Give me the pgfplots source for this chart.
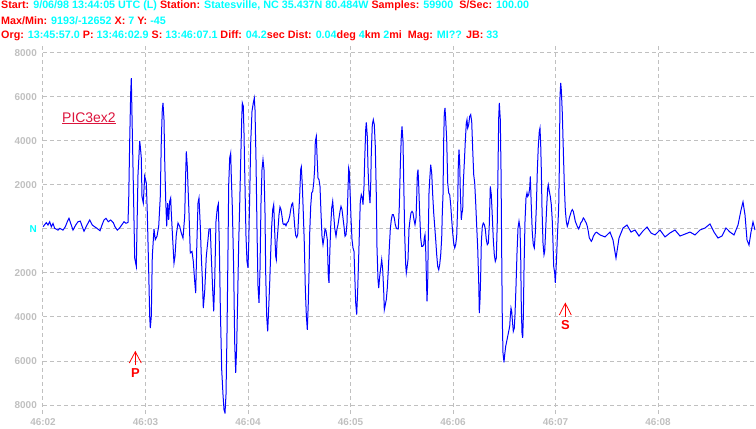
\documentclass[border=0pt]{standalone}
\usepackage{pgfplots}
\pgfplotsset{compat=1.18}
\usepackage{fontspec}
\setmainfont{Liberation Sans}
\definecolor{hdrred}{RGB}{255,0,0}
\definecolor{hdrcyan}{RGB}{0,255,255}
\definecolor{gridgray}{RGB}{192,192,192}
\definecolor{tracecol}{RGB}{0,0,255}
\definecolor{piccol}{RGB}{220,20,60}
\newcommand{\R}[1]{\textcolor{hdrred}{#1}}
\newcommand{\C}[1]{\textcolor{hdrcyan}{#1}}
\begin{document}
\begin{tikzpicture}
\begin{axis}[
 at={(0,0)}, anchor=south west,
 scale only axis, width=713bp, height=370.7bp,
 xmin=0, xmax=713, ymin=-8400, ymax=8450,
 scaled ticks=false,
 axis line style={draw=none}, tick style={draw=none}, major tick length=0pt,
 xtick={0,102.5,205,307.5,410,512.5,615},
 xticklabels={46:02,46:03,46:04,46:05,46:06,46:07,46:08},
 ytick={-8000,-6000,-4000,-2000,0,2000,4000,6000,8000},
 yticklabels={8000,6000,4000,2000,\textcolor{hdrcyan}{N},2000,4000,6000,8000},
 grid=major,
 major grid style={gridgray, line width=1bp, dash pattern=on 4bp off 3bp},
 ticklabel style={font=\fontsize{10}{12}\selectfont\bfseries, text=gridgray, inner sep=0pt},
 xticklabel style={anchor=north, yshift=-5bp},
 yticklabel style={anchor=east, xshift=-6bp},
]
\addplot[tracecol, line width=1bp] coordinates {
(0,100) (3.3,290) (5,180) (6.7,330) (8.3,100) (10,250) (11.7,30) (15,-50) (16.7,30) (20,-50)
(22.3,100) (24.3,330) (26,485) (27.7,260) (30,-50) (32.7,180) (35,330) (37.3,360) (39.3,100) (41,-100)
(44,180) (46.7,410) (49.3,180) (51.7,100) (54,30) (57,-80) (59,180) (61,410) (63,485) (65.3,330)
(67.7,410) (70.3,290) (72,100) (74.3,-50) (76.3,30) (78.7,180) (81,330) (83,260) (85,300)
(85.7,1330) (86.7,4000) (87.7,6200) (88.3,6860) (89.3,4440) (90.3,2090) (91.7,-1320) (93.3,-1700)
(95,2470) (96.7,4000) (97.3,3760) (98.3,3230) (99,1480) (100.3,1180) (101.7,2400) (103.3,2090)
(104.3,730) (105.7,-1920) (106.7,-3970) (107.3,-4500) (108.3,-3970) (109.3,-1240) (111,0)
(112.3,-480) (114,-330) (115.7,120) (117.3,1480) (118.3,4000) (119.3,5420) (120,5730) (121,4970)
(121.7,3150) (122.7,1330) (123.7,120) (124.7,1180) (125.7,420) (126.7,1260) (127.7,1410) (128.3,730)
(129.7,-480) (131,-1550) (132,-1240) (133.3,-260) (135,270) (136.7,120) (138.3,-180) (140,-410)
(141.7,580) (142.7,2540) (143.3,3530) (144.3,2850) (145,1940) (146,730) (147.3,-1090) (149,-1020)
(150.3,-1470) (151.7,-2380) (152.7,-2910) (153.7,-940) (155,1180) (156,1410) (157.3,120)
(158.3,-1240) (159.3,-2210) (160.3,-3590) (161.7,-2830) (163.3,-1240) (165,-480) (166,0) (167.3,0)
(168.3,-1240) (169.7,-2760) (170.7,-3740) (171.7,-2380) (173,350) (174.3,950)
(175.3,1140) (176.3,-640) (177.3,-3520) (178.7,-6390) (180,-7530) (181,-8210) (182,-8360) (183,-7530)
(184,-4730) (185,-940) (185.7,2010) (186.7,3230) (187.7,3450) (188.3,2390) (189.3,1030) (190.7,-1850)
(191.7,-5180) (192.7,-6540) (193.7,-5330) (194.7,-3060) (195.7,-640) (196.7,1110) (197.7,3080)
(198.7,4970) (199.3,5730) (200.3,5580) (201,4360) (202,1940) (203,-330) (204,-1470) (205,-1770)
(205.7,-710) (206.7,1480) (207.7,3910) (209,5350) (210.3,5730) (211.3,5950) (212,5420) (213,3150)
(214,0) (215,-2600) (216,-3360) (217,-1850) (218,1180) (219,2700) (220,3150) (221,2700) (222,730)
(222.7,-2000) (223.7,-3970) (224.7,-4650) (225.7,-3590) (226.7,-2450) (227.7,-1090) (228.7,120)
(229.7,880) (230.7,1110) (231.7,-110) (232.7,-1240) (233.3,-1390) (234,-560) (235,0) (236,650)
(237,1000) (238,880) (239,580) (240,240) (241,200) (242,240) (243,150) (244,270) (245.3,350)
(246.7,580) (247.7,880) (248.7,1110) (249.7,1180) (250.7,730) (251.7,120) (252.7,-290) (253.7,-380)
(254.7,-260) (255.7,650) (256.7,1560) (257.7,2700) (258.3,2820) (259.3,2010) (260.3,730) (261.3,-640)
(262.3,-2680) (263.3,-3890) (264.3,-4580) (265.3,-3360)
(266,-2000) (266.7,-180) (267.7,1030) (268.7,1640) (269.7,1710) (270.7,2090) (271.7,2770) (272.3,3980)
(273.3,4210) (274,3380) (275,2320) (276,2240) (277,1940) (278,730) (279,-330) (280,-710) (281,-410)
(282,0) (283,-80) (284.3,-480) (285.3,-2150) (286,-2450) (286.7,-1240) (287.7,120) (288.7,950)
(289.7,1260) (290.7,650) (291.7,45) (293,-330) (294,0) (295,200) (296,500) (297,800) (298,1030)
(299,880) (300,500) (301,120) (302,-330) (303,-260) (304,270) (305,1790) (305.7,2770) (306.3,2620)
(307,1790) (308,500) (309,-480) (310,-860) (311,-1020) (311.7,-2000) (312.7,-3360) (313.7,-3890)
(314.7,-2760) (315.7,-1240) (316.7,350) (317.3,1260) (318.3,1560) (319.3,1410) (320,1110) (321,1940)
(321.7,3150) (322.7,4510) (323.3,4850) (324.3,4210) (325,2770) (326,1710) (327,1180) (327.7,2010)
(328.3,3450) (329.3,4740) (330.3,4970) (331.3,4740) (332.3,3760) (333.3,1560) (334,-860) (335,-2300)
(335.7,-2680) (336.7,-2150) (337.7,-1770) (338.7,-1390) (339.7,-1850) (340.7,-2830) (341.3,-3670)
(342.3,-3440) (343.3,-3210) (344.3,-2680) (345.3,-1850) (346.3,-860) (347.3,0) (348.3,420) (349.3,650)
(350.3,650) (351.3,500) (352.3,200) (353.3,45) (354.3,0) (355.3,0) (356.3,1030) (357.3,2850)
(358.3,4210) (359,4660) (360,3980)
(361.7,-260) (362.7,-1620) (363.3,-2000) (364,-1770) (365,-1390) (366,0) (367,420) (368,730) (369,800)
(370,730) (371,420) (372,200) (373,500) (373.7,1410) (374.3,2470) (375,2700) (375.7,2010) (376.7,650)
(377.7,-410) (378.7,-790) (379.7,-790) (380.7,-710) (381.3,-410) (382,-260) (382.7,-940) (383.3,-2000)
(384,-3290) (384.7,-2450) (385.3,-330) (386,1640) (386.7,2240) (387.7,2920) (388.7,2540) (389.7,1560)
(390.7,730) (391.7,120) (392.7,-480) (393.7,-1170) (394.7,-1700) (395.7,-1850) (396.7,-1620)
(397.7,-1170) (398.7,-410) (399.3,730) (400,1560) (400.7,4060) (401.3,5270) (402,5500) (402.7,4970)
(403.7,4060) (404.7,2090) (405.7,1640) (406.7,1560) (407.7,1110) (408.7,420) (409.7,-180) (410.7,-640)
(411.7,-860) (412.7,-710) (413.7,-330) (414.7,1110) (415.3,2920) (416,3610) (416.7,3000) (417.3,1710)
(418.3,420) (419,730) (419.7,880) (420.3,2090) (421.3,3000) (422.3,3980) (423.3,4820) (424,4970)
(424.7,4590) (425.7,4740) (426.7,5120) (427.7,5200) (428.7,4890) (429.7,3610) (430.7,2470) (431.7,2090)
(432.7,1180) (433.7,120) (434.7,-860) (435.7,-2380) (436.3,-3820) (437,-3210) (437.7,-2080) (438.3,-640)
(439.3,120) (440.3,270) (441.3,200) (442.3,0) (443.3,-480) (444.3,-710) (445.3,-640) (446.3,200)
(447.3,1940) (448.3,1560) (449.3,580) (450.3,-480) (451.3,-1170) (452.3,-1470) (453.3,-1320) (454.3,350)
(455,2700) (455.7,5050) (456.3,5730) (457.3,4970) (458,2700) (458.7,-1090) (459.3,-4120)
(460,-5640) (461,-6060) (461.7,-5710) (462.7,-5330) (463.7,-5110) (464.7,-4880) (465.7,-4650)
(466.7,-4420) (467.3,-3970) (468,-3590) (468.7,-3740) (469.3,-4120) (470.3,-4650) (471.3,-4500)
(472,-3890) (473,-2600) (474,-1090) (475,45) (476,350) (477,45) (477.7,-1240) (478.3,-3520) (479,-4730)
(479.7,-4950) (480.3,-4050) (481,-1850) (482,350) (483,1410) (484,1640) (484.7,1480) (485.7,1560)
(486.7,1860) (487.3,2390) (488.3,1030) (489.3,-180) (490.3,-710) (491.3,-860) (492.3,-180) (493.3,950)
(494.3,2620) (495.3,3760) (496.3,4440) (497,4590) (497.7,3830) (498.3,2700) (499,950) (500,-640)
(501,-1170) (501.7,-1020) (502.7,0) (503.7,1030) (504.7,1860) (505.3,2010) (506.3,1710) (507.3,1480)
(508.3,1110) (509.3,350) (510,-640) (510.7,-1700) (511.7,-2000) (512.3,-2450) (513,-1850) (513.7,-1170)
(514.3,-410) (515,270) (515.7,1030) (516.3,2700) (517,6030) (517.7,6640) (518.3,6330) (519.3,5270)
(520.3,3610) (521.3,2010) (522.3,880) (523.3,350) (524.3,120) (525.3,270) (526.3,500) (527.3,650)
(528.3,800) (529.3,880) (530.3,800) (531.3,580) (532.3,350) (533.3,230) (534.3,120) (535.7,0)
(536.7,120) (537.7,270) (539,350) (540.3,500) (541.3,450) (542.3,350) (543.3,270) (544.3,120)
(545.3,-110) (546.3,-410) (547.3,-480) (548.3,-560) (549.3,-480) (550.3,-330) (551.3,-260) (552.3,-180)
(553.7,-150)
(557,-270) (562,-360) (567,-140) (570,-500) (573,-1320) (576,-410) (580,45) (584,180) (588,-140)
(592,-45) (596,-320) (600,-90) (604,90) (608,-180) (612,-270) (617,-45) (622,-360) (627,-180)
(632,-45) (637,-320) (642,-230) (647,-140) (652,-270) (657,-45) (662,45) (667,230) (671,-140)
(675,-410) (679,-320) (683,45) (687,-140) (691,-270) (695,180) (698,860) (700,1230) (702,640)
(704,-500) (706,-730) (708,-140) (710,320) (712,-45)
};
% P and S arrival markers
\draw[hdrred, line width=0.8bp] (axis cs:86.3,-6091) -- (axis cs:92.3,-5578) -- (axis cs:98.3,-6091);
\draw[hdrred, line width=0.8bp] (axis cs:92.3,-5578) -- (axis cs:92.3,-6182);
\node[text=hdrred, font=\fontsize{13}{15}\selectfont\bfseries, inner sep=0pt] at (axis cs:92.5,-6532) {P};
\draw[hdrred, line width=0.8bp] (axis cs:516.3,-3910) -- (axis cs:522.3,-3378) -- (axis cs:528.3,-3910);
\draw[hdrred, line width=0.8bp] (axis cs:522.3,-3378) -- (axis cs:522.3,-3987);
\node[text=hdrred, font=\fontsize{13}{15}\selectfont\bfseries, inner sep=0pt] at (axis cs:522.5,-4364) {S};
\end{axis}
% header text
\begin{scope}[every node/.style={anchor=base west, inner sep=0pt, font=\fontsize{10.8}{12}\selectfont\bfseries}]
\node at (-42bp,405.3bp) {\R{Start:} \C{9/06/98 13:44:05 UTC (L)} \R{Station:} \C{Statesville, NC 35.437N 80.484W} \R{Samples:} \C{59900}\ \ \R{S/Sec:} \C{100.00}};
\node at (-42bp,389.3bp) {\R{Max/Min:} \C{9193/-12652} \R{X:} \C{7} \R{Y:} \C{-45}};
\node at (-42bp,375.3bp) {\R{Org:} \C{13:45:57.0} \R{P:} \C{13:46:02.9} \R{S:} \C{13:46:07.1} \R{Diff:} \C{04.2}\R{sec Dist:} \C{0.04}\R{deg }\C{4}\R{km }\C{2}\R{mi\ \ Mag:} \C{MI??} \R{JB:} \C{33}};
\end{scope}
\node[anchor=base west, inner sep=0pt, font=\fontsize{14}{16}\selectfont, text=piccol] at (19bp,291.3bp) {PIC3ex2};
\draw[piccol, line width=1bp] (19bp,289.8bp) -- (73bp,289.8bp);
\pgfresetboundingbox
\useasboundingbox (-43bp,-15.2bp) rectangle (713bp,413.8bp);
\end{tikzpicture}
\end{document}
